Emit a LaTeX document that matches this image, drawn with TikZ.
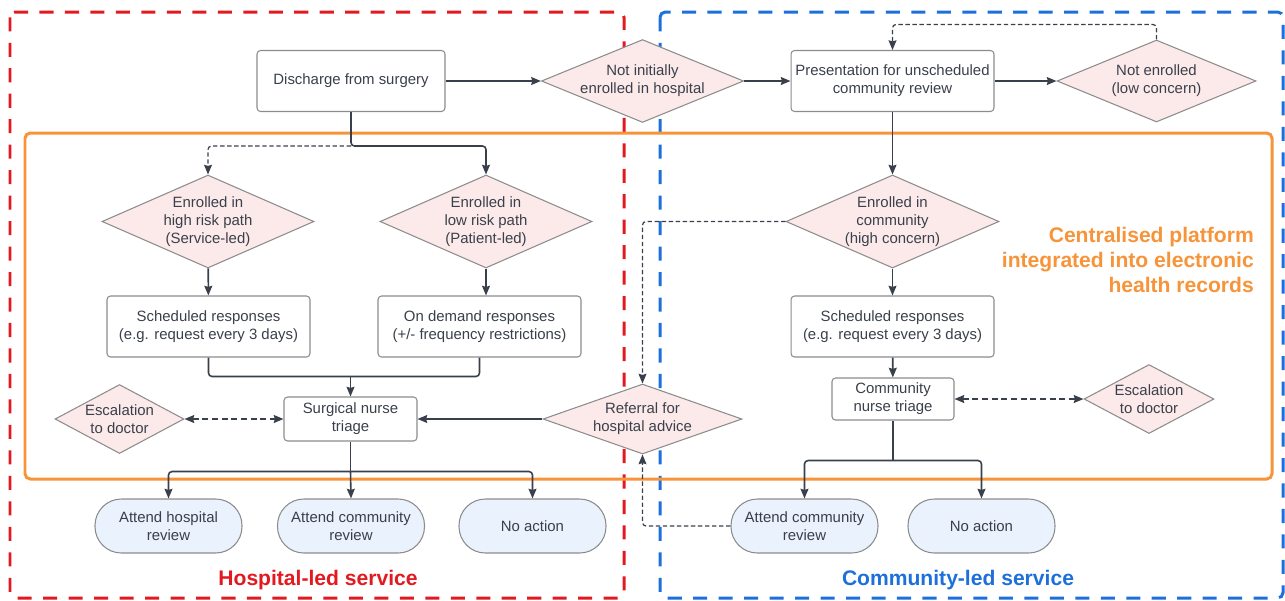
\documentclass[tikz,border=0pt]{standalone}
\usepackage{fontspec}
\setmainfont{Liberation Sans}
\usetikzlibrary{
  shapes.geometric, % Shape "diamond"
  arrows.meta,
  positioning,
}
\definecolor{myink}{HTML}{3A404B}
\definecolor{myline}{HTML}{8C8C8C}
\definecolor{mypink}{HTML}{FCEAEA}
\definecolor{mysky}{HTML}{EAF2FD}
\definecolor{myred}{HTML}{E3191F}
\definecolor{myblue}{HTML}{1D6FDC}
\definecolor{myorange}{HTML}{F7943A}
\def\myboxw{4.06cm}
\def\myboxh{1.22cm}
\def\mypillw{2.94cm}
\def\mypillh{1.08cm}
\tikzset{
  x=0.02cm,
  y=-0.02cm,
  font=\fontsize{8.5}{10.2}\selectfont,
  >={Stealth[length=5.5pt,width=4.5pt,inset=0.6pt]},
  my box/.style={
    draw=myline,
    fill=white,
    text=myink,
    rectangle,
    rounded corners=2pt,
    minimum width=\myboxw,
    minimum height=\myboxh,
    inner sep=1pt,
    align=center,
    line width=0.6pt
  },
  my decision/.style={
    draw=myline,
    fill=mypink,
    text=myink,
    diamond,
    aspect=2.3,
    inner sep=0pt,
    align=center,
    line width=0.6pt
  },
  my end/.style={
    draw=myline,
    fill=mysky,
    text=myink,
    rectangle,
    rounded corners=15pt,
    minimum width=\mypillw,
    minimum height=\mypillh,
    align=center,
    line width=0.6pt
  },
  my flow/.style={
    draw=myink,
    line width=0.9pt,
    rounded corners=2pt,
    ->
  },
  my dash/.style={
    my flow,
    line width=0.7pt,
    dash pattern=on 2.5pt off 1.5pt
  },
  my dash thick/.style={
    my flow,
    line width=1pt,
    dash pattern=on 3.5pt off 2pt
  },
  my frame/.style={
    line width=1.7pt,
    dash pattern=on 8pt off 6.5pt,
    rounded corners=3pt
  },
  my title/.style={
    font=\fontsize{12}{14.2}\selectfont\bfseries
  }
}

\begin{document}
\begin{tikzpicture}
\useasboundingbox (0,0) rectangle (1285,600);
% service areas
\draw[my frame,myred]  (10,12)  rectangle (624,598);
\draw[my frame,myblue] (660,12) rectangle (1283,598);
\draw[myorange,line width=1.7pt,rounded corners=3pt] (25,133) rectangle (1272,479);

% top row
\node[my box,minimum width=3.76cm]             (dis)   at (351,81)     {Discharge from surgery};
\node[my decision,minimum width=4cm,minimum height=1.64cm,aspect=2.44]
                                               (notin) at (642.5,81)   {Not initially\\enrolled in hospital};
\node[my box]                                  (pres)  at (892.5,81)   {Presentation for unscheduled\\community review};
\node[my decision,minimum width=3.98cm,minimum height=1.64cm,aspect=2.43]
                                               (noten) at (1156.5,81)  {Not enrolled\\(low concern)};

% hospital-led
\node[my decision,minimum width=4.24cm,minimum height=1.86cm,aspect=2.28]
                                               (high)  at (208,221.5)  {Enrolled in\\high risk path\\(Service-led)};
\node[my decision,minimum width=4.24cm,minimum height=1.86cm,aspect=2.28]
                                               (low)   at (486,221.5)  {Enrolled in\\low risk path\\(Patient-led)};
\node[my box]                                  (schH)  at (208.5,326.5){Scheduled responses\\(e.g. request every 3 days)};
\node[my box]                                  (dem)   at (479.5,326.5){On demand responses\\(+/- frequency restrictions)};
\node[my box,minimum width=2.66cm,minimum height=0.88cm]
                                               (surg)  at (350.5,419)  {Surgical nurse\\triage};
\node[my decision,minimum width=2.58cm,minimum height=1.38cm,aspect=1.87]
                                               (escH)  at (119.5,419)  {Escalation\\to doctor};
\node[my decision,minimum width=3.98cm,minimum height=1.4cm,aspect=2.84]
                                               (ref)   at (642.5,419)  {Referral for\\hospital advice};
\node[my end]                                  (ahr)   at (168.5,526)  {Attend hospital\\review};
\node[my end]                                  (acr)   at (351,526)    {Attend community\\review};
\node[my end]                                  (noaH)  at (532.5,526)  {No action};

% community-led
\node[my decision,minimum width=4.26cm,minimum height=1.86cm,aspect=2.29]
                                               (encom) at (892.5,221.5){Enrolled in\\community\\(high concern)};
\node[my box]                                  (schC)  at (892.5,326.5){Scheduled responses\\(e.g. request every 3 days)};
\node[my box,minimum width=2.44cm,minimum height=0.84cm]
                                               (comm)  at (893,399)    {Community\\nurse triage};
\node[my decision,minimum width=2.6cm,minimum height=1.38cm,aspect=1.88]
                                               (escC)  at (1149,399)   {Escalation\\to doctor};
\node[my end]                                  (acc)   at (804.5,526)  {Attend community\\review};
\node[my end]                                  (noaC)  at (981.5,526)  {No action};

% labels
\node[my title,text=myred]    (hosp)  at (318,580) {Hospital-led service};
\node[my title,text=myblue]   (commu) at (958,580) {Community-led service};
\node[my title,text=myorange,align=right,anchor=east]
                              (plat)  at (1260,260) {Centralised platform\\integrated into electronic\\health records};

% connectors
\path (dis.south)  ++(0,34) coordinate (split)
      (surg.north) ++(0,-20) coordinate (join)
      (surg.south) ++(0,30) coordinate (forkH)
      (comm.south) ++(0,40) coordinate (forkC);
\draw[my flow] (dis)   -- (notin);
\draw[my flow] (notin) -- (pres);
\draw[my flow] (pres)  -- (noten);
\draw[my dash] (noten.north) -- ++(0,-15) -| (pres.north);
\draw[my flow] (pres)  -- (encom);
\draw[my flow] (dis.south) -- (split) -| (low.north);
\draw[my dash] (split) -| (high.north);
\draw[my flow] (high)  -- (schH);
\draw[my flow] (low.south) -- (low.south |- dem.north);
\draw[my flow,-] (schH.south) |- (join);
\draw[my flow,-] (dem.south)  |- (join);
\draw[my flow] (join)  -- (surg);
\draw[my dash thick,<->] (escH.east) -- (surg.west);
\draw[my flow] (ref.west) -- (surg.east);
\draw[my flow,-] (surg.south) -- (forkH);
\draw[my flow] (forkH) -| (ahr.north);
\draw[my flow] (forkH) -- (acr.north);
\draw[my flow] (forkH) -| (noaH.north);
\draw[my dash] (encom.west) -| (ref.north);
\draw[my dash] (acc.west)   -| (ref.south);
\draw[my flow] (encom) -- (schC);
\draw[my flow] (schC)  -- (comm);
\draw[my dash thick,<->] (comm.east) -- (escC.west);
\draw[my flow,-] (comm.south) -- (forkC);
\draw[my flow] (forkC) -| (acc.north);
\draw[my flow] (forkC) -| (noaC.north);
\end{tikzpicture}
\end{document}
